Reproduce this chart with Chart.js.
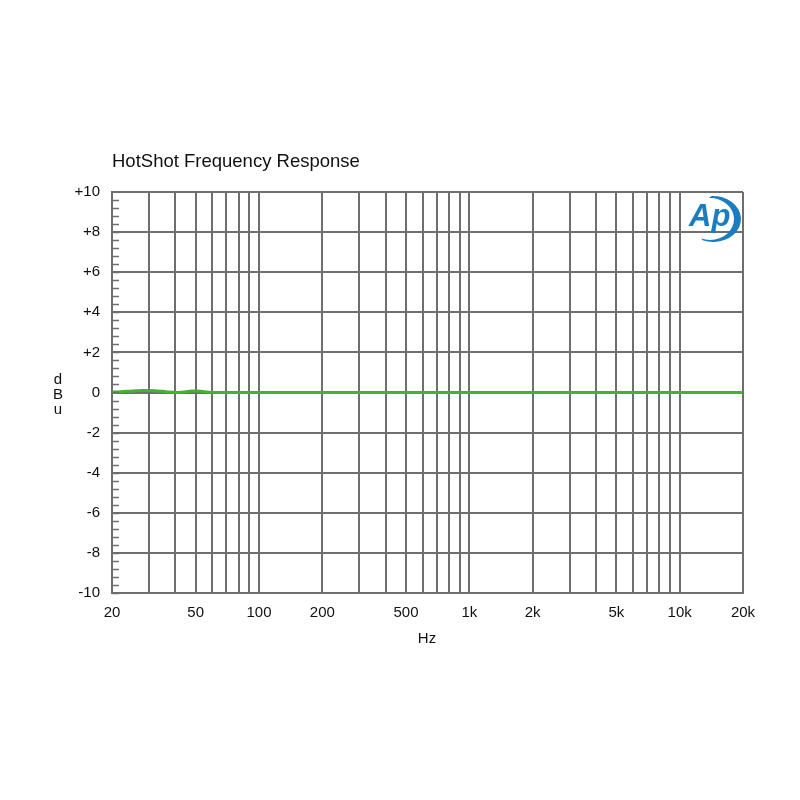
<!DOCTYPE html>
<html>
<head>
<meta charset="utf-8">
<script src="https://cdn.jsdelivr.net/npm/chart.js@4.4.1/dist/chart.umd.min.js"></script>
<style>
  html, body { margin: 0; padding: 0; background: #fff; }
  #wrap { width: 800px; height: 800px; }
</style>
</head>
<body>
<div id="wrap"><canvas id="grafico" width="800" height="800"></canvas></div>
<script>
// Datos del gráfico
const frecuencias = [20, 22, 25, 28, 30, 33, 36, 40, 44, 48, 50, 53, 57, 60, 70, 80, 100, 200, 500, 1000, 2000, 5000, 10000, 20000];
const nivelesDbu = [0.02, 0.04, 0.08, 0.1, 0.1, 0.08, 0.04, 0.0, 0.03, 0.07, 0.08, 0.06, 0.02, 0.0, 0.0, 0.0, 0.0, 0.0, 0.0, 0.0, 0.0, 0.0, 0.0, 0.0];
const rejillaX = [20, 30, 40, 50, 60, 70, 80, 90, 100, 200, 300, 400, 500, 600, 700, 800, 900,
                  1000, 2000, 3000, 4000, 5000, 6000, 7000, 8000, 9000, 10000, 20000];
const valoresEtiquetaX = [20, 50, 100, 200, 500, 1000, 2000, 5000, 10000, 20000];
const etiquetasX = ['20', '50', '100', '200', '500', '1k', '2k', '5k', '10k', '20k'];
const ticksY = [-10, -8, -6, -4, -2, 0, 2, 4, 6, 8, 10];

const colorRejilla = '#6e6e6e';
const fuente = "'Liberation Sans', Arial, sans-serif";

// Textos extra, marcas menores y logotipo
const extras = {
    id: 'extras',
    afterDraw(chart) {
        const ctx = chart.ctx;
        const area = chart.chartArea;
        const y = chart.scales.y;
        ctx.save();
        // marcas menores del eje Y
        ctx.strokeStyle = colorRejilla;
        ctx.lineWidth = 1.5;
        for (let v = -10; v < 10; v += 0.4) {
            const p = Math.round(y.getPixelForValue(v)) + 0.5;
            ctx.beginPath();
            ctx.moveTo(area.left, p);
            ctx.lineTo(area.left + 7, p);
            ctx.stroke();
        }
        // título
        ctx.fillStyle = '#111';
        ctx.font = '18.5px ' + fuente;
        ctx.textAlign = 'left';
        ctx.textBaseline = 'middle';
        ctx.fillText('HotShot Frequency Response', 112, 162);
        // dBu vertical
        ctx.font = '15px ' + fuente;
        ctx.textAlign = 'center';
        ['d', 'B', 'u'].forEach((c, i) => ctx.fillText(c, 58, 380 + i * 15));
        // Hz
        ctx.fillText('Hz', 427, 639);
        // logotipo Ap
        ctx.fillStyle = '#1b7cc0';
        ctx.font = 'italic bold 31px ' + fuente;
        ctx.textAlign = 'left';
        ctx.textBaseline = 'alphabetic';
        ctx.fillText('Ap', 689, 226);
        // media luna
        ctx.beginPath();
        ctx.ellipse(713, 219, 28, 23, 0, -1.62, 1.95);
        ctx.ellipse(710, 219, 24, 21, 0, 1.95, -1.62, true);
        ctx.closePath();
        ctx.fill();
        ctx.restore();
    }
};

const ctxGrafico = document.getElementById('grafico').getContext('2d');
new Chart(ctxGrafico, {
    type: 'line',
    data: {
        datasets: [{
            label: 'HotShot',
            data: frecuencias.map((f, i) => ({ x: f, y: nivelesDbu[i] })),
            borderColor: '#3fb52a',
            borderWidth: 3,
            pointRadius: 0,
            tension: 0.4,
            fill: false
        }]
    },
    options: {
        responsive: false,
        animation: false,
        layout: { padding: { left: 0, right: 57, top: 192, bottom: 0 } },
        plugins: {
            legend: { display: false },
            title: { display: false },
            tooltip: { enabled: false }
        },
        scales: {
            x: {
                type: 'logarithmic',
                min: 20,
                max: 20000,
                afterBuildTicks: (scale) => { scale.ticks = rejillaX.map(v => ({ value: v })); },
                afterFit: (scale) => { scale.height = 207; },
                grid: { color: colorRejilla, lineWidth: 2, drawTicks: false },
                border: { color: colorRejilla, width: 2 },
                ticks: {
                    autoSkip: false,
                    maxRotation: 0,
                    padding: 11,
                    color: '#111',
                    font: { family: fuente, size: 15 },
                    callback: (v) => {
                        const i = valoresEtiquetaX.indexOf(v);
                        return i >= 0 ? etiquetasX[i] : '';
                    }
                }
            },
            y: {
                min: -10,
                max: 10,
                afterBuildTicks: (scale) => { scale.ticks = ticksY.map(v => ({ value: v })); },
                afterFit: (scale) => { scale.width = 112; },
                grid: { color: colorRejilla, lineWidth: 2, drawTicks: false },
                border: { color: colorRejilla, width: 2 },
                ticks: {
                    padding: 12,
                    color: '#111',
                    font: { family: fuente, size: 15 },
                    callback: (v) => (v > 0 ? '+' + v : String(v))
                }
            }
        }
    },
    plugins: [extras]
});
</script>
</body>
</html>
